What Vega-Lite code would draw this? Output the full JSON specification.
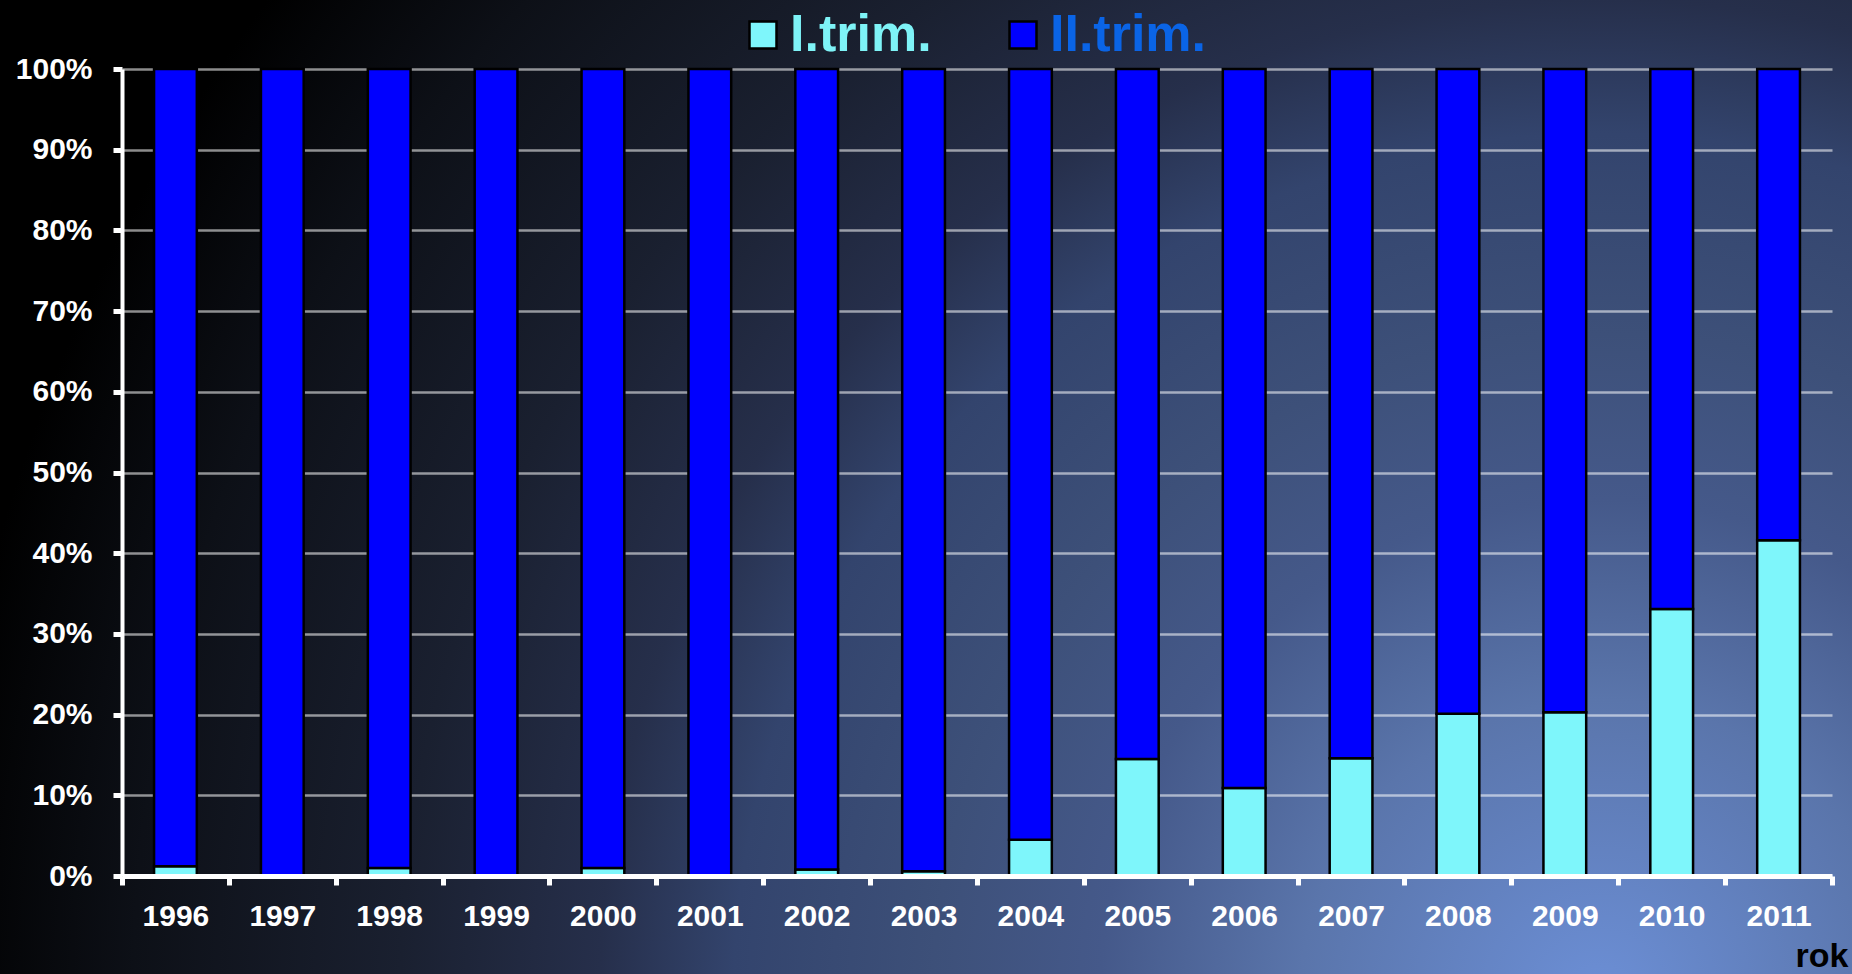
{
  "$schema": "https://vega.github.io/schema/vega-lite/v6.json",
  "width": 1852,
  "height": 974,
  "autosize": {"type": "none"},
  "padding": 0,
  "background": "#000000",
  "config": {
    "view": {
      "stroke": null,
      "fill": {
        "gradient": "radial",
        "x1": 0.864, "y1": 0.777, "r1": 0,
        "x2": 0.864, "y2": 0.777, "r2": 0.9,
        "stops": [
          {"offset": 0, "color": "#6c8fd6"},
          {"offset": 0.18, "color": "#5a75ab"},
          {"offset": 0.3, "color": "#45598a"},
          {"offset": 0.4, "color": "#3d5079"},
          {"offset": 0.52, "color": "#33446d"},
          {"offset": 0.6, "color": "#262f4b"},
          {"offset": 0.72, "color": "#1a2030"},
          {"offset": 0.88, "color": "#0d1017"},
          {"offset": 1, "color": "#000000"}
        ]
      }
    },
    "font": "Liberation Sans"
  },
  "data": {
    "values": [
      {"rok": "1996", "trim": "I.trim.", "p": 1.2}, {"rok": "1996", "trim": "II.trim.", "p": 98.8},
      {"rok": "1997", "trim": "I.trim.", "p": 0.0}, {"rok": "1997", "trim": "II.trim.", "p": 100.0},
      {"rok": "1998", "trim": "I.trim.", "p": 1.0}, {"rok": "1998", "trim": "II.trim.", "p": 99.0},
      {"rok": "1999", "trim": "I.trim.", "p": 0.0}, {"rok": "1999", "trim": "II.trim.", "p": 100.0},
      {"rok": "2000", "trim": "I.trim.", "p": 1.0}, {"rok": "2000", "trim": "II.trim.", "p": 99.0},
      {"rok": "2001", "trim": "I.trim.", "p": 0.0}, {"rok": "2001", "trim": "II.trim.", "p": 100.0},
      {"rok": "2002", "trim": "I.trim.", "p": 0.8}, {"rok": "2002", "trim": "II.trim.", "p": 99.2},
      {"rok": "2003", "trim": "I.trim.", "p": 0.6}, {"rok": "2003", "trim": "II.trim.", "p": 99.4},
      {"rok": "2004", "trim": "I.trim.", "p": 4.5}, {"rok": "2004", "trim": "II.trim.", "p": 95.5},
      {"rok": "2005", "trim": "I.trim.", "p": 14.5}, {"rok": "2005", "trim": "II.trim.", "p": 85.5},
      {"rok": "2006", "trim": "I.trim.", "p": 10.9}, {"rok": "2006", "trim": "II.trim.", "p": 89.1},
      {"rok": "2007", "trim": "I.trim.", "p": 14.6}, {"rok": "2007", "trim": "II.trim.", "p": 85.4},
      {"rok": "2008", "trim": "I.trim.", "p": 20.1}, {"rok": "2008", "trim": "II.trim.", "p": 79.9},
      {"rok": "2009", "trim": "I.trim.", "p": 20.3}, {"rok": "2009", "trim": "II.trim.", "p": 79.7},
      {"rok": "2010", "trim": "I.trim.", "p": 33.1}, {"rok": "2010", "trim": "II.trim.", "p": 66.9},
      {"rok": "2011", "trim": "I.trim.", "p": 41.6}, {"rok": "2011", "trim": "II.trim.", "p": 58.4}
    ]
  },
  "mark": {"type": "bar", "stroke": "#000000", "strokeWidth": 2.5, "opacity": 1},
  "encoding": {
    "x": {
      "field": "rok",
      "type": "nominal",
      "sort": null,
      "scale": {"range": [122, 1832], "paddingInner": 0.6, "paddingOuter": 0.3},
      "axis": {
        "orient": "bottom",
        "offset": -98,
        "zindex": 1,
        "domainColor": "#ffffff",
        "domainWidth": 5,
        "bandPosition": 2.5,
        "tickExtra": true,
        "tickOffset": -32.1,
        "labelOffset": 32.1,
        "tickColor": "#ffffff",
        "tickWidth": 5,
        "tickSize": 9,
        "labelAngle": 0,
        "labelColor": "#ffffff",
        "labelFont": "Liberation Sans",
        "labelFontSize": 30,
        "labelFontWeight": "bold",
        "labelPadding": 16,
        "grid": false,
        "title": "rok",
        "titleColor": "#000000",
        "titleFont": "Liberation Sans",
        "titleFontSize": 34,
        "titleFontWeight": "bold",
        "titleAnchor": null,
        "titleAlign": "right",
        "titleBaseline": "alphabetic",
        "titleX": 1848,
        "titleY": 90
      }
    },
    "y": {
      "field": "p",
      "type": "quantitative",
      "stack": "normalize",
      "scale": {"domain": [0, 1], "range": [876, 69], "nice": false},
      "axis": {
        "orient": "left",
        "offset": -122,
        "values": [0, 0.1, 0.2, 0.3, 0.4, 0.5, 0.6, 0.7, 0.8, 0.9, 1],
        "format": ".0%",
        "domainColor": "#ffffff",
        "domainWidth": 4,
        "tickColor": "#ffffff",
        "tickWidth": 5,
        "tickSize": 9,
        "labelColor": "#ffffff",
        "labelFont": "Liberation Sans",
        "labelFontSize": 30,
        "labelFontWeight": "bold",
        "labelPadding": 21,
        "grid": true,
        "gridColor": "#ffffff",
        "gridOpacity": 0.55,
        "gridWidth": 2.5,
        "title": null
      }
    },
    "color": {
      "field": "trim",
      "type": "nominal",
      "scale": {"domain": ["I.trim.", "II.trim."], "range": ["#7ef6fb", "#0000ff"]},
      "legend": {
        "orient": "none",
        "legendX": 737,
        "legendY": 9,
        "direction": "horizontal",
        "title": null,
        "padding": 0,
        "symbolType": "square",
        "symbolSize": 729,
        "symbolStrokeColor": "#000000",
        "symbolStrokeWidth": 2.5,
        "symbolOpacity": 1,
        "labelFont": "Liberation Sans",
        "labelFontSize": 52,
        "labelFontWeight": "bold",
        "labelColor": {"expr": "datum.label == 'I.trim.' ? '#7ef3f7' : '#0a64e6'"},
        "labelOffset": 1,
        "labelLimit": 400,
        "columnPadding": 65
      }
    },
    "order": {"field": "trim", "sort": "ascending"}
  }
}
